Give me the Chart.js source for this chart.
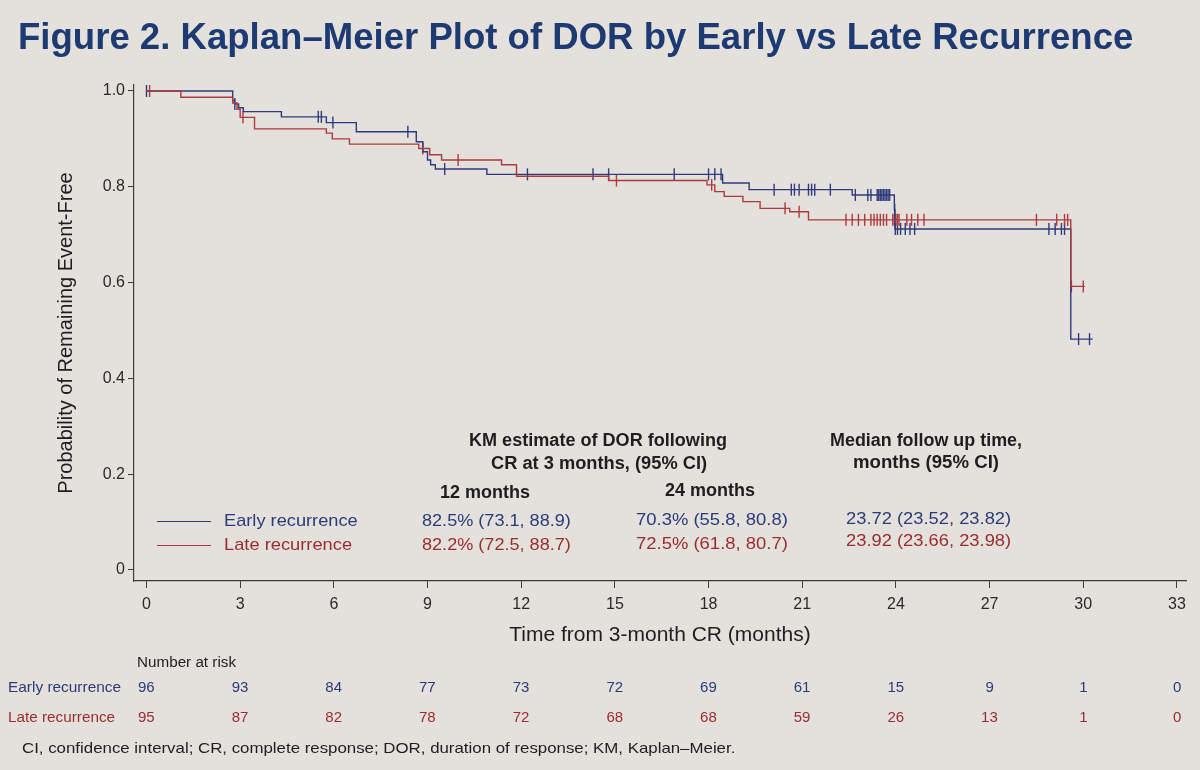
<!DOCTYPE html>
<html>
<head>
<meta charset="utf-8">
<script src="https://cdn.jsdelivr.net/npm/chart.js@4.4.1/dist/chart.umd.min.js"></script>
<style>
  html, body { margin: 0; padding: 0; background: #e4e1dc; }
  #wrap { position: relative; width: 1200px; height: 770px; overflow: hidden; background: #e4e1dc; }
  #c { position: absolute; left: 0; top: 0; width: 1200px; height: 770px; }
  .t { position: absolute; white-space: nowrap; line-height: 1; font-family: 'Liberation Sans', Arial, sans-serif; transform-origin: left center; }
  .lg { position: absolute; height: 0; border-top-style: solid; border-top-width: 1.5px; }
</style>
</head>
<body>
<div id="wrap">
  <canvas id="c" width="1200" height="770"></canvas>
</div>
<script>
// ---------------- data ----------------
const xTicks = [0, 3, 6, 9, 12, 15, 18, 21, 24, 27, 30, 33];
const yTicks = [0, 0.2, 0.4, 0.6, 0.8, 1.0];

// Early recurrence KM curve (time in months, survival after the step)
const earlyTime = [0, 2.76, 2.82, 2.95, 3.1, 4.32, 5.76, 6.72, 8.64, 8.85, 9.0, 9.1, 9.25, 10.9, 18.45, 19.3, 22.6, 23.95, 23.97, 29.6, 30.3];
const earlySurv = [1.0, 0.98, 0.973, 0.965, 0.957, 0.946, 0.934, 0.915, 0.894, 0.873, 0.856, 0.846, 0.837, 0.826, 0.808, 0.794, 0.783, 0.752, 0.712, 0.482, 0.482];
const earlyCensor = [0, 2.83, 5.5, 5.6, 5.97, 8.37, 9.55, 12.2, 14.3, 14.8, 16.9, 18.0, 18.2, 18.4, 20.1, 20.65, 20.75, 20.9, 21.2, 21.3, 21.4, 21.9, 22.7, 23.1, 23.2, 23.4, 23.45, 23.5, 23.55, 23.6, 23.65, 23.7, 23.75, 23.8, 23.96, 23.98, 24.05, 24.15, 24.3, 24.45, 24.6, 28.9, 29.1, 29.3, 29.4, 29.85, 30.2];

// Late recurrence KM curve
const lateTime = [0, 1.1, 2.76, 2.9, 3.0, 3.46, 5.76, 5.95, 6.5, 8.72, 9.07, 9.45, 11.37, 11.85, 14.8, 17.95, 18.2, 18.5, 19.1, 19.65, 20.6, 21.2, 29.6, 30.05];
const lateSurv = [1.0, 0.987, 0.975, 0.962, 0.945, 0.921, 0.912, 0.9, 0.889, 0.88, 0.867, 0.856, 0.846, 0.822, 0.813, 0.804, 0.79, 0.78, 0.769, 0.755, 0.748, 0.731, 0.592, 0.592];
const lateCensor = [0.1, 3.09, 8.85, 9.98, 15.05, 18.1, 20.45, 20.9, 22.4, 22.6, 22.8, 23.0, 23.2, 23.3, 23.4, 23.5, 23.6, 23.7, 23.9, 23.95, 24.0, 24.05, 24.1, 24.35, 24.5, 24.7, 24.9, 28.5, 29.15, 29.4, 29.5, 29.62, 30.0];

// Number at risk at each x tick
const atRiskEarly = [96, 93, 84, 77, 73, 72, 69, 61, 15, 9, 1, 0];
const atRiskLate  = [95, 87, 82, 78, 72, 68, 68, 59, 26, 13, 1, 0];

// Summary table
const groups = ['Early recurrence', 'Late recurrence'];
const km12 = ['82.5% (73.1, 88.9)', '82.2% (72.5, 88.7)'];
const km24 = ['70.3% (55.8, 80.8)', '72.5% (61.8, 80.7)'];
const medFU = ['23.72 (23.52, 23.82)', '23.92 (23.66, 23.98)'];

// ---------------- styles ----------------
const BLUE = '#2e3b7c';
const RED = '#ad3a3c';
const BLUE_T = '#2b3a78';
const RED_T = '#9a2c30';
const AX = '#3c3c3c';
const FAM = "'Liberation Sans', Arial, sans-serif";

function pts(ts, ss) { return ts.map((t, i) => ({ x: t, y: ss[i] })); }
function survAt(ts, ss, t) {
  let v = ss[0];
  for (let i = 0; i < ts.length; i++) { if (ts[i] <= t) v = ss[i]; }
  return v;
}
function censPts(cs, ts, ss) { return cs.map(t => ({ x: t, y: survAt(ts, ss, t) })); }

const ctx = document.getElementById('c').getContext('2d');
const chart = new Chart(ctx, {
  type: 'scatter',
  data: {
    datasets: [
      { label: 'Late recurrence', data: pts(lateTime, lateSurv), showLine: true, stepped: true,
        borderColor: RED, borderWidth: 1.4, pointRadius: 0, fill: false },
      { label: 'Early recurrence', data: pts(earlyTime, earlySurv), showLine: true, stepped: true,
        borderColor: BLUE, borderWidth: 1.4, pointRadius: 0, fill: false },
      { label: 'Late censored', data: censPts(lateCensor, lateTime, lateSurv), showLine: false,
        pointStyle: 'line', rotation: 90, pointRadius: 6, pointBorderWidth: 1.4,
        borderColor: RED, backgroundColor: RED },
      { label: 'Early censored', data: censPts(earlyCensor, earlyTime, earlySurv), showLine: false,
        pointStyle: 'line', rotation: 90, pointRadius: 6, pointBorderWidth: 1.4,
        borderColor: BLUE, backgroundColor: BLUE }
    ]
  },
  options: {
    responsive: false,
    animation: false,
    devicePixelRatio: 1,
    layout: { padding: { left: 50, top: 85, right: 14, bottom: 118 } },
    plugins: { legend: { display: false }, tooltip: { enabled: false } },
    elements: { line: { tension: 0 } },
    scales: {
      x: {
        type: 'linear', min: -0.40, max: 33.29,
        afterBuildTicks: s => { s.ticks = xTicks.map(v => ({ value: v })); },
        afterFit: s => { s.height = 71; },
        grid: { drawOnChartArea: false, drawTicks: true, tickLength: 7, color: AX, lineWidth: 1 },
        border: { display: true, color: AX, width: 1.2 },
        ticks: { font: { size: 16, family: FAM }, color: '#2a2a2a', padding: 7, maxRotation: 0, autoSkip: false,
                 callback: v => String(v) },
        title: { display: true, text: 'Time from 3-month CR (months)', color: '#1e1e1e',
                 font: { size: 21, family: FAM }, padding: { top: 4, bottom: 4 } }
      },
      y: {
        type: 'linear', min: -0.023, max: 1.0125,
        afterBuildTicks: s => { s.ticks = yTicks.map(v => ({ value: v })); },
        afterFit: s => { s.width = 84; },
        grid: { drawOnChartArea: false, drawTicks: true, tickLength: 6, color: AX, lineWidth: 1 },
        border: { display: true, color: AX, width: 1.2 },
        ticks: { font: { size: 16, family: FAM }, color: '#2a2a2a', padding: 3, autoSkip: false,
                 callback: v => (v === 0 ? '0' : Number(v).toFixed(1)) },
        title: { display: true, text: 'Probability of Remaining Event-Free', color: '#1e1e1e',
                 font: { size: 20, family: FAM }, padding: { top: 4, bottom: 4 } }
      }
    }
  }
});

// ---------------- HTML text overlays ----------------
const wrap = document.getElementById('wrap');
function addText(txt, o) {
  const d = document.createElement('div');
  d.className = 't';
  d.textContent = txt;
  d.style.fontSize = o.size + 'px';
  d.style.fontWeight = o.weight || 'normal';
  d.style.color = o.color || '#222';
  wrap.appendChild(d);
  const w = d.offsetWidth;
  const sc = o.w ? o.w / w : 1;
  const left = o.align === 'center' ? o.x - (w * sc) / 2 : o.x;
  d.style.left = left + 'px';
  d.style.top = (o.y - 0.49 * o.size) + 'px';
  d.style.transform = 'scaleX(' + sc + ')';
  return d;
}
function addLine(x1, x2, y, color) {
  const l = document.createElement('div');
  l.className = 'lg';
  l.style.left = x1 + 'px';
  l.style.width = (x2 - x1) + 'px';
  l.style.top = y + 'px';
  l.style.borderTopColor = color;
  wrap.appendChild(l);
}

// Title
addText('Figure 2. Kaplan\u2013Meier Plot of DOR by Early vs Late Recurrence',
  { x: 18, y: 37, size: 36, weight: 'bold', color: '#1d3a72', w: 1115 });

// Summary table headers
addText('KM estimate of DOR following', { x: 598, y: 440, size: 18, weight: 'bold', color: '#1e1e1e', align: 'center', w: 258 });
addText('CR at 3 months, (95% CI)', { x: 599, y: 463, size: 18, weight: 'bold', color: '#1e1e1e', align: 'center', w: 216 });
addText('Median follow up time,', { x: 926, y: 440, size: 18, weight: 'bold', color: '#1e1e1e', align: 'center', w: 192 });
addText('months  (95% CI)', { x: 926, y: 462, size: 18, weight: 'bold', color: '#1e1e1e', align: 'center', w: 146 });
addText('12 months', { x: 485, y: 492, size: 18, weight: 'bold', color: '#1e1e1e', align: 'center', w: 90 });
addText('24 months', { x: 710, y: 490, size: 18, weight: 'bold', color: '#1e1e1e', align: 'center', w: 90 });

// Legend + rows
const rowY = [520, 544];
const rowYR = [518, 540];
const rowCol = [BLUE_T, RED_T];
const lineCol = [BLUE, RED];
groups.forEach((g, i) => {
  addLine(157, 211, rowY[i] + 1, lineCol[i]);
  addText(g, { x: 224, y: rowY[i], size: 17, color: rowCol[i], w: i === 0 ? 134 : 128 });
  addText(km12[i], { x: 422, y: rowY[i], size: 17, color: rowCol[i], w: 149 });
  addText(km24[i], { x: 636, y: rowY[i] - 1, size: 17, color: rowCol[i], w: 152 });
  addText(medFU[i], { x: 846, y: rowYR[i], size: 17, color: rowCol[i], w: 165 });
});

// Number at risk
addText('Number at risk', { x: 137, y: 662, size: 14, color: '#1e1e1e', w: 99 });
addText('Early recurrence', { x: 8, y: 686, size: 15, color: BLUE_T, w: 113 });
addText('Late recurrence', { x: 8, y: 716, size: 15, color: RED_T, w: 107 });
const xs = chart.scales.x;
xTicks.forEach((t, i) => {
  const px = xs.getPixelForValue(t);
  addText(String(atRiskEarly[i]), { x: px, y: 686, size: 15, color: BLUE_T, align: 'center' });
  addText(String(atRiskLate[i]), { x: px, y: 716, size: 15, color: RED_T, align: 'center' });
});

// Footnote
addText('CI, confidence interval; CR, complete response; DOR, duration of response; KM, Kaplan\u2013Meier.',
  { x: 22, y: 747, size: 15, color: '#1e1e1e', w: 713 });
</script>
</body>
</html>
